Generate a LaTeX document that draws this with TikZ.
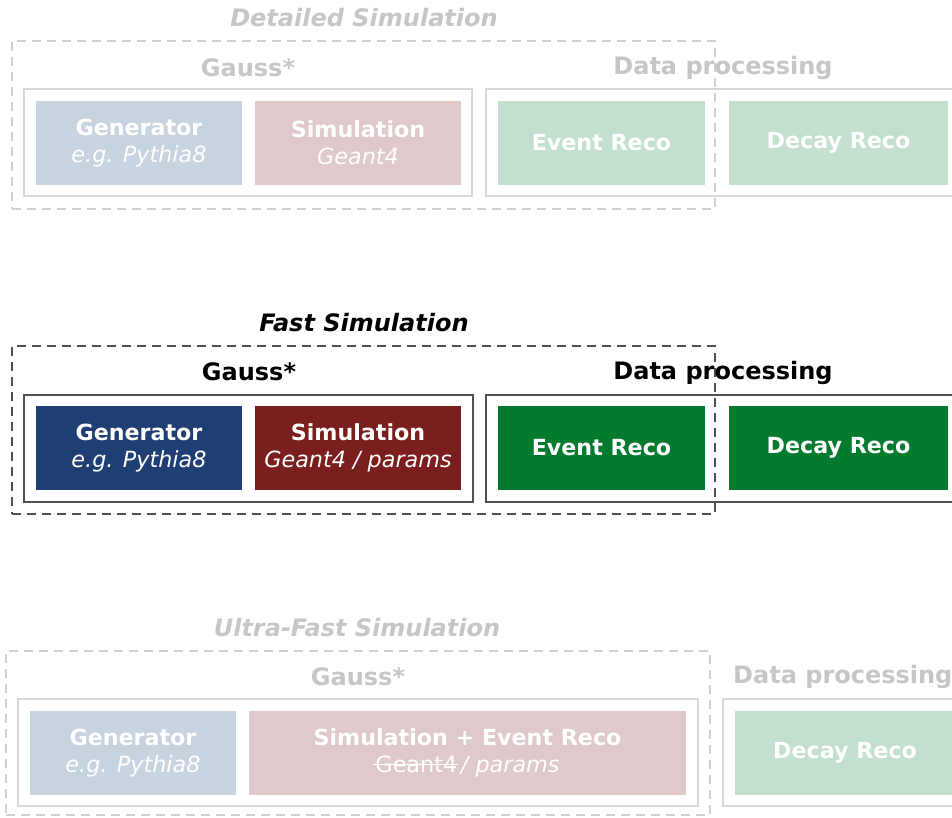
\documentclass[tikz,border=0pt]{standalone}
\usepackage{fontspec}
\setmainfont{DejaVu Sans}
\definecolor{ltxt}{HTML}{C6C6C6}
\definecolor{ldash}{HTML}{CFCFCF}
\definecolor{lframe}{HTML}{D8D8D8}
\definecolor{lgen}{HTML}{C8D3E0}
\definecolor{lsim}{HTML}{DFC9CA}
\definecolor{lgreen}{HTML}{C3DFCD}
\definecolor{dgen}{HTML}{1F3E73}
\definecolor{dsim}{HTML}{7A1E1E}
\definecolor{dgreen}{HTML}{047A2F}
\definecolor{dframe}{HTML}{505050}
\newcommand\strikeword[1]{\setbox0=\hbox{#1}\rlap{\kern-0.1em\rule[0.32em]{\dimexpr\wd0+0.15em\relax}{0.07em}}\box0}
\newcommand\subfnt{\mdseries\itshape\fontsize{22.3}{29}\selectfont}
\tikzset{
  blk/.style={rectangle, inner sep=0pt, minimum height=84pt, align=center, text=white,
    font=\bfseries\fontsize{22.2}{29}\selectfont},
  frame/.style={rectangle, draw=#1, line width=2pt, inner sep=0pt, minimum height=107pt},
  dashframe/.style={rectangle, draw=#1, line width=1.5pt, dash pattern=on 9pt off 6pt, inner sep=0pt},
  lbl/.style={inner sep=0pt, text=#1, font=\bfseries\fontsize{24}{28}\selectfont},
  ttl/.style={inner sep=0pt, text=#1, font=\bfseries\itshape\fontsize{24}{28}\selectfont}
}
\begin{document}
\begin{tikzpicture}[x=1pt,y=-1pt]
\clip (0,0) rectangle (952,817);
\fill[white] (0,0) rectangle (952,817);
% ---------- Detailed Simulation ----------
\node[ttl=ltxt] (t1) at (364,18) {Detailed Simulation};
\node[frame=lframe, minimum width=448pt] (g1) at (248,142.5) {};
\node[frame=lframe, minimum width=479pt] (p1) at (725.5,142.5) {};
\node[blk, fill=lgen, minimum width=206pt] (gen1) at (139,143) {Generator\\[-2pt]{\subfnt e.g. Pythia8}};
\node[blk, fill=lsim, minimum width=206pt] (sim1) at (358,143) {Simulation\\[-2pt]{\subfnt Geant4}};
\node[blk, fill=lgreen, minimum width=207pt] (er1) at (601.5,143) {Event Reco};
\node[blk, fill=lgreen, minimum width=219pt] (dr1) at (838.5,143) {Decay Reco};
\node[dashframe=ldash, minimum width=703pt, minimum height=168pt] (d1) at (363.5,125) {};
\node[lbl=ltxt] (gl1) at (248,68) {Gauss*};
\node[lbl=ltxt] (pl1) at (723,68) {Data processing};
% ---------- Fast Simulation ----------
\node[ttl=black] (t2) at (364,323) {Fast Simulation};
\node[frame=dframe, minimum width=449pt] (g2) at (248.5,448) {};
\node[frame=dframe, minimum width=479pt] (p2) at (725.5,448) {};
\node[blk, fill=dgen, minimum width=206pt] (gen2) at (139,448) {Generator\\[-2pt]{\subfnt e.g. Pythia8}};
\node[blk, fill=dsim, minimum width=206pt] (sim2) at (358,448) {Simulation\\[-2pt]{\subfnt Geant4 / params}};
\node[blk, fill=dgreen, minimum width=207pt] (er2) at (601.5,448) {Event Reco};
\node[blk, fill=dgreen, minimum width=219pt] (dr2) at (838.5,448) {Decay Reco};
\node[dashframe=dframe, minimum width=703pt, minimum height=168pt] (d2) at (363.5,430) {};
\node[lbl=black] (gl2) at (249,372) {Gauss*};
\node[lbl=black] (pl2) at (723,373) {Data processing};
% ---------- Ultra-Fast Simulation ----------
\node[ttl=ltxt] (t3) at (357,628) {Ultra-Fast Simulation};
\node[frame=lframe, minimum width=680pt] (g3) at (358,752.5) {};
\node[frame=lframe, minimum width=242pt] (p3) at (844,752.5) {};
\node[blk, fill=lgen, minimum width=206pt] (gen3) at (133,753) {Generator\\[-2pt]{\subfnt e.g. Pythia8}};
\node[blk, fill=lsim, minimum width=437pt] (sim3) at (467.5,753) {Simulation + Event Reco\\[-2pt]{\subfnt\strikeword{\upshape Geant4}\,/ params}};
\node[blk, fill=lgreen, minimum width=220pt] (dr3) at (845,753) {Decay Reco};
\node[dashframe=ldash, minimum width=704pt, minimum height=164pt] (d3) at (358,733) {};
\node[lbl=ltxt] (gl3) at (358,677) {Gauss*};
\node[lbl=ltxt, anchor=west] (pl3) at (733,677) {Data processing};
\end{tikzpicture}
\end{document}
